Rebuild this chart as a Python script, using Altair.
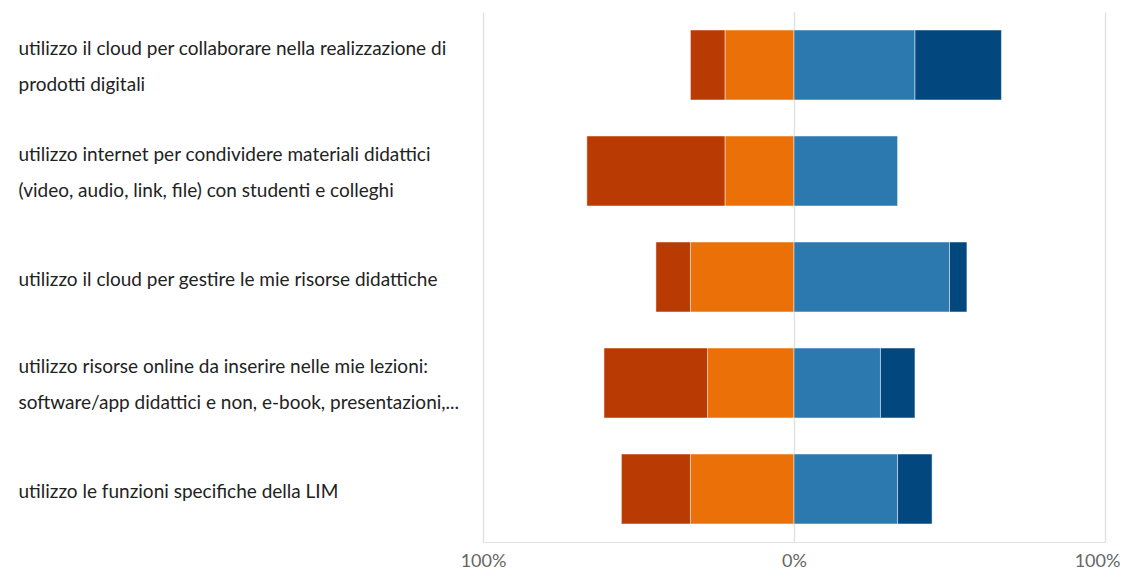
import altair as alt
import pandas as pd

statements = [
    "utilizzo il cloud per collaborare nella realizzazione di|prodotti digitali",
    "utilizzo internet per condividere materiali didattici|(video, audio, link, file) con studenti e colleghi",
    "utilizzo il cloud per gestire le mie risorse didattiche",
    "utilizzo risorse online da inserire nelle mie lezioni:|software/app didattici e non, e-book, presentazioni,...",
    "utilizzo le funzioni specifiche della LIM",
]
levels = ["Mai", "Raramente", "Spesso", "Sempre"]
colors = ["#BA3A03", "#EB7007", "#2C79B0", "#03477F"]

mai = [11.1, 44.4, 11.1, 33.3, 22.2]
raramente = [22.2, 22.2, 33.3, 27.8, 33.3]
spesso = [38.9, 33.3, 50.0, 27.8, 33.3]
sempre = [27.8, 0.0, 5.6, 11.1, 11.1]

rows = []
for i, s in enumerate(statements):
    # negative side: Raramente next to zero, Mai further out
    r0 = -raramente[i]
    rows.append(dict(statement=s, level="Raramente", x=r0, x2=0.0, order=1))
    rows.append(dict(statement=s, level="Mai", x=r0 - mai[i], x2=r0, order=0))
    p1 = spesso[i]
    rows.append(dict(statement=s, level="Spesso", x=0.0, x2=p1, order=2))
    if sempre[i] > 0:
        rows.append(dict(statement=s, level="Sempre", x=p1, x2=p1 + sempre[i], order=3))
df = pd.DataFrame(rows)

font = "Lato"

chart = (
    alt.Chart(df)
    .mark_bar(stroke="white", strokeWidth=0.8, strokeOpacity=0.6)
    .encode(
        y=alt.Y(
            "statement:N",
            sort=statements,
            scale=alt.Scale(paddingInner=0.34, paddingOuter=0.17),
            axis=alt.Axis(
                title=None,
                ticks=False,
                tickSize=0,
                domain=False,
                labelAlign="left",
                labelBaseline="middle",
                labelPadding=465,
                labelLimit=460,
                labelFontSize=19,
                labelFont=font,
                labelColor="#222222",
                labelLineHeight=36,
                labelOffset=alt.condition(
                    "indexof(datum.label, '|') >= 0", alt.value(-16), alt.value(3)
                ),
                labelExpr="split(datum.label, '|')",
            ),
        ),
        x=alt.X(
            "x:Q",
            scale=alt.Scale(domain=[-100, 100], nice=False),
            axis=alt.Axis(
                title=None,
                values=[-100, 0, 100],
                labelExpr="abs(datum.value) + '%'",
                ticks=False,
                tickSize=0,
                domain=True,
                domainColor="#e2e2e2",
                gridColor="#e2e2e2",
                gridWidth=1.5,
                labelFontSize=18,
                labelFont=font,
                labelColor="#666666",
                labelPadding=10,
                labelFlush=False,
                labelOffset=alt.condition(
                    "datum.value >= 100", alt.value(-8), alt.value(0)
                ),
            ),
        ),
        x2="x2:Q",
        color=alt.Color(
            "level:N",
            scale=alt.Scale(domain=levels, range=colors),
            legend=None,
        ),
    )
    .properties(
        width=622,
        height=530,
        autosize=alt.AutoSizeParams(type="none"),
        padding={"left": 475, "top": 4, "right": 16, "bottom": 27},
    )
    .configure_view(stroke=None)
)

chart.save("out.html", embed_options={"renderer": "svg", "actions": False})
